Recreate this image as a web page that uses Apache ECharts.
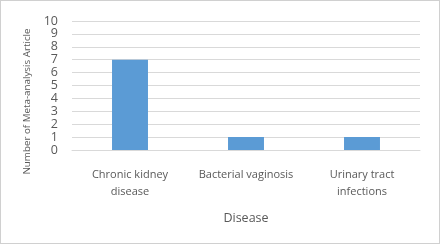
<!DOCTYPE html>
<html><head><meta charset="utf-8">
<script src="https://cdn.jsdelivr.net/npm/echarts@6/dist/echarts.min.js"></script>
<style>html,body{margin:0;padding:0;background:#fff;}#c{width:438px;height:242px;border:1px solid #d0d0d0;}</style>
</head><body><div id="c"></div>
<script>
const categories = ["Chronic kidney\ndisease", "Bacterial vaginosis", "Urinary tract\ninfections"];
const values = [7, 1, 1];
const yTicks = [0, 1, 2, 3, 4, 5, 6, 7, 8, 9, 10];
const chart = echarts.init(document.getElementById('c'));
const font = '"Open Sans", sans-serif';
chart.setOption({
  animation: false,
  grid: {left: 71, right: 19, top: 20, bottom: 93},
  xAxis: {
    type: 'category', data: categories,
    name: 'Disease', nameLocation: 'middle', nameGap: 62,
    nameTextStyle: {fontFamily: font, fontSize: 12.5, color: '#595959'},
    axisLine: {show: true, lineStyle: {color: '#d9d9d9'}},
    axisTick: {show: false},
    axisLabel: {interval: 0, fontFamily: font, fontSize: 11, color: '#595959', margin: 16, lineHeight: 17}
  },
  yAxis: {
    type: 'value', min: 0, max: 10, interval: 1,
    name: 'Number of Meta-analysis Article', nameLocation: 'middle', nameGap: 40, nameRotate: 90,
    nameTextStyle: {fontFamily: font, fontSize: 9.8, color: '#595959', padding: [0, 0, 0, -32]},
    axisLine: {show: false}, axisTick: {show: false},
    axisLabel: {fontFamily: font, fontSize: 12.5, color: '#595959', margin: 14,
      formatter: v => yTicks.includes(v) ? String(v) : ''},
    splitLine: {lineStyle: {color: '#d9d9d9'}}
  },
  series: [{type: 'bar', data: values, barWidth: '31%', itemStyle: {color: '#5b9bd5'}}]
});
</script></body></html>
